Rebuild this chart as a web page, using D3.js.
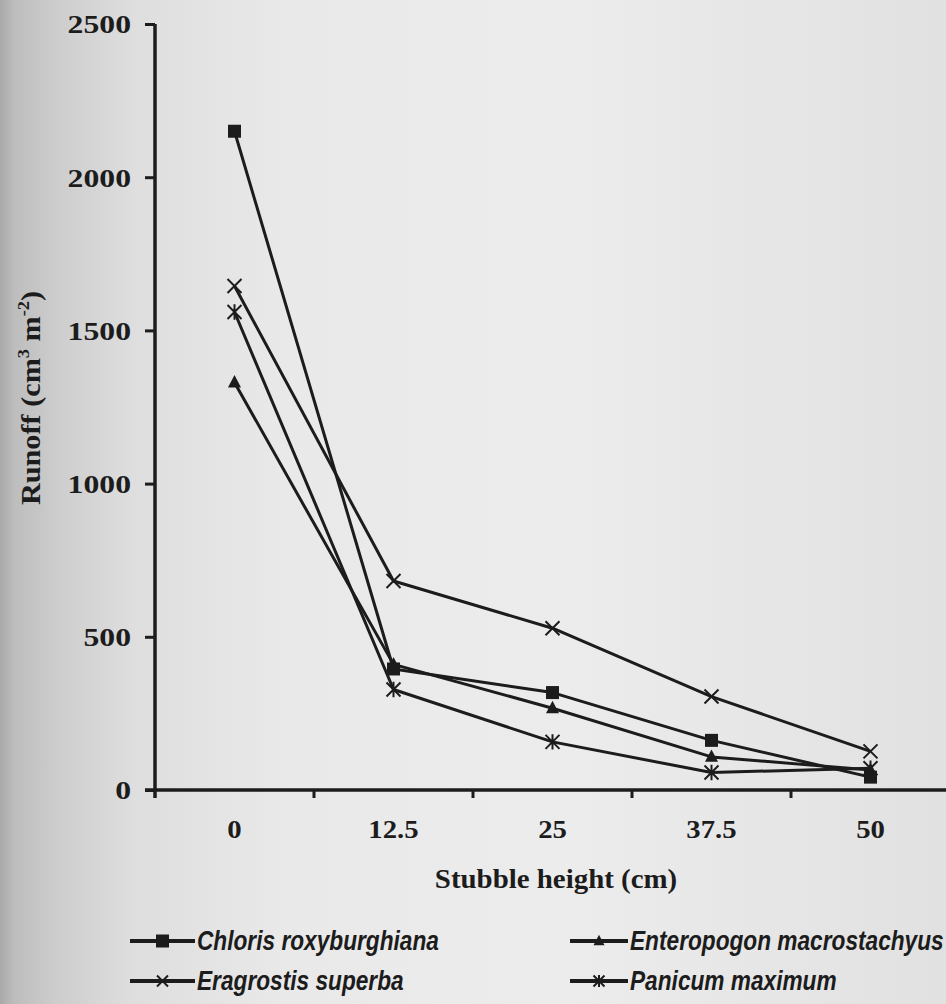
<!DOCTYPE html>
<html>
<head>
<meta charset="utf-8">
<script src="https://cdn.jsdelivr.net/npm/d3@7"></script>
<style>
  html, body { margin: 0; padding: 0; background: #e6e6e6; }
  svg { display: block; }
</style>
</head>
<body>
<svg id="chart" width="946" height="1004"></svg>
<script>
// Runoff under four grass species at five stubble heights
const stubbleHeights = ["0", "12.5", "25", "37.5", "50"];
const chloris     = [2150, 395, 318, 162, 42];
const enteropogon = [1330, 410, 267, 108, 65];
const eragrostis  = [1645, 682, 528, 305, 126];
const panicum     = [1560, 328, 157, 57, 71];
const yTicks = [0, 500, 1000, 1500, 2000, 2500];

const speciesNames = ["Chloris roxyburghiana", "Enteropogon macrostachyus", "Eragrostis superba", "Panicum maximum"];
const speciesValues = [chloris, enteropogon, eragrostis, panicum];
const speciesMarkers = ["square", "triangle", "cross", "asterisk"];

const svg = d3.select("#chart");
const W = 946, H = 1004;
const ink = "#1c1c1c";
const serif = "'Liberation Serif', 'Times New Roman', serif";
const sans = "'Liberation Sans', Arial, sans-serif";

// paper background, darker toward the left edge
const defs = svg.append("defs");
const grad = defs.append("linearGradient").attr("id", "paper").attr("x1", "0").attr("x2", "1").attr("y1", "0").attr("y2", "0");
[[0, "#a9a9a9"], [0.015, "#bdbdbd"], [0.06, "#cdcdcd"], [0.14, "#dedede"], [0.3, "#e9e9e9"], [0.6, "#ececec"], [1, "#e1e1e1"]]
  .forEach(([o, c]) => grad.append("stop").attr("offset", o).attr("stop-color", c));
svg.append("rect").attr("width", W).attr("height", H).attr("fill", "url(#paper)");

const x = d3.scaleBand().domain(stubbleHeights).range([155, 950]);
const y = d3.scaleLinear().domain([0, 2500]).range([790, 24]);
const cx = d => x(d) + x.bandwidth() / 2;

// y axis
const yAxis = svg.append("g").attr("transform", `translate(${x.range()[0]},0)`)
  .call(d3.axisLeft(y).tickValues(yTicks).tickFormat(d3.format("d")).tickSize(10).tickSizeOuter(0).tickPadding(0));
yAxis.select(".domain").remove();
yAxis.selectAll(".tick line").attr("stroke", ink).attr("stroke-width", 3);
yAxis.selectAll(".tick text")
  .attr("x", -24 / 1.22).attr("dy", "0.34em")
  .attr("transform", "scale(1.22,1)")
  .attr("fill", ink).attr("font-family", serif).attr("font-weight", "bold").attr("font-size", 26);

// x axis labels at band centres, ticks at band boundaries
const xAxis = svg.append("g").attr("transform", `translate(0,${y(0)})`)
  .call(d3.axisBottom(x).tickSize(0).tickPadding(0));
xAxis.select(".domain").remove();
xAxis.selectAll(".tick text")
  .attr("x", 0).attr("y", 48).attr("dy", 0)
  .attr("transform", "scale(1.15,1)")
  .attr("fill", ink).attr("font-family", serif).attr("font-weight", "bold").attr("font-size", 25);

svg.append("g").selectAll("line")
  .data(stubbleHeights.slice(0, -1))
  .join("line")
  .attr("x1", d => x(d) + x.bandwidth()).attr("x2", d => x(d) + x.bandwidth())
  .attr("y1", y(0)).attr("y2", y(0) + 8)
  .attr("stroke", ink).attr("stroke-width", 3);

// axis lines
svg.append("line").attr("x1", x.range()[0]).attr("x2", x.range()[0])
  .attr("y1", y(2500)).attr("y2", y(0) + 8)
  .attr("stroke", ink).attr("stroke-width", 3.5);
svg.append("line").attr("x1", x.range()[0] - 10).attr("x2", W)
  .attr("y1", y(0)).attr("y2", y(0))
  .attr("stroke", ink).attr("stroke-width", 3.5);

// axis titles
svg.append("text")
  .attr("transform", `translate(${556},${888}) scale(1.07,1)`)
  .attr("text-anchor", "middle")
  .attr("fill", ink).attr("font-family", serif).attr("font-weight", "bold").attr("font-size", 27)
  .text("Stubble height (cm)");

const yTitle = svg.append("text")
  .attr("transform", `translate(40,${398}) rotate(-90) scale(1.08,1)`)
  .attr("text-anchor", "middle")
  .attr("fill", ink).attr("font-family", serif).attr("font-weight", "bold").attr("font-size", 28);
yTitle.append("tspan").text("Runoff (cm");
yTitle.append("tspan").attr("dy", -11).attr("font-size", 17).text("3");
yTitle.append("tspan").attr("dy", 11).text(" m");
yTitle.append("tspan").attr("dy", -11).attr("font-size", 17).text("-2");
yTitle.append("tspan").attr("dy", 11).text(")");

// marker shapes
function drawMarker(g, kind, px, py, s) {
  if (kind === "square") {
    g.append("rect").attr("x", px - s / 2).attr("y", py - s / 2).attr("width", s).attr("height", s).attr("fill", ink);
  } else if (kind === "triangle") {
    const h = s * 0.95;
    g.append("path").attr("d", `M${px},${py - h * 0.6} L${px + s / 2},${py + h * 0.4} L${px - s / 2},${py + h * 0.4} Z`).attr("fill", ink);
  } else if (kind === "cross") {
    const r = s / 2;
    g.append("path").attr("d", `M${px - r},${py - r} L${px + r},${py + r} M${px - r},${py + r} L${px + r},${py - r}`)
      .attr("stroke", ink).attr("stroke-width", 2).attr("fill", "none");
  } else if (kind === "asterisk") {
    const r = s / 2;
    g.append("path").attr("d", `M${px - r},${py - r} L${px + r},${py + r} M${px - r},${py + r} L${px + r},${py - r} M${px},${py - r * 1.1} L${px},${py + r * 1.1}`)
      .attr("stroke", ink).attr("stroke-width", 2).attr("fill", "none");
  }
}

// series lines and markers
const line = d3.line().x((v, i) => cx(stubbleHeights[i])).y(v => y(v));
speciesValues.forEach((vals, k) => {
  const g = svg.append("g");
  g.append("path").datum(vals).attr("d", line)
    .attr("fill", "none").attr("stroke", ink).attr("stroke-width", 3).attr("stroke-linejoin", "round");
  const size = speciesMarkers[k] === "square" ? 13 : speciesMarkers[k] === "triangle" ? 13 : 14;
  vals.forEach((v, i) => drawMarker(g, speciesMarkers[k], cx(stubbleHeights[i]), y(v), size));
});

// legend (condensed bold italic labels)
const legendPos = [[130, 950], [570, 950], [130, 990], [570, 990]];
const legendLen = [65, 58, 65, 58];
speciesNames.forEach((name, k) => {
  const [lx, by] = legendPos[k];
  const ly = by - 9;
  const g = svg.append("g");
  g.append("line").attr("x1", lx).attr("x2", lx + legendLen[k]).attr("y1", ly).attr("y2", ly)
    .attr("stroke", ink).attr("stroke-width", 4);
  const s = speciesMarkers[k] === "square" ? 13 : 11;
  drawMarker(g, speciesMarkers[k], lx + legendLen[k] / 2, ly, s);
  g.append("text")
    .attr("transform", `translate(${lx + legendLen[k] + 2},${by}) scale(0.81,1)`)
    .attr("fill", ink).attr("font-family", sans).attr("font-weight", "bold").attr("font-style", "italic")
    .attr("font-size", 28).text(name);
});
</script>
</body>
</html>
